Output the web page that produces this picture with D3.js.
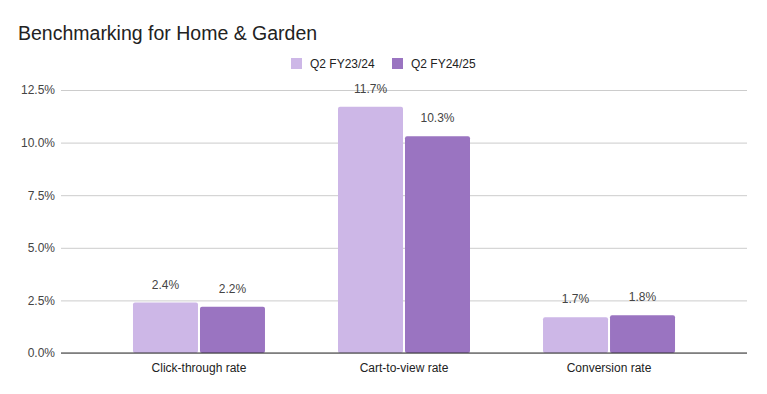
<!DOCTYPE html>
<html>
<head>
<meta charset="utf-8">
<script src="https://cdn.jsdelivr.net/npm/d3@7"></script>
<style>
  body { margin: 0; background: #fff; }
  text { font-family: Arial, "Liberation Sans", sans-serif; }
</style>
</head>
<body>
<div id="chart"></div>
<script>
      var w = 767;
      var h = 394;

      var categories = ['Click-through rate', 'Cart-to-view rate', 'Conversion rate'];
      var seriesNames = ['Q2 FY23/24', 'Q2 FY24/25'];
      var q2FY2324 = [2.4, 11.7, 1.7];
      var q2FY2425 = [2.2, 10.3, 1.8];
      var yTicks = [0, 2.5, 5, 7.5, 10, 12.5];
      var colors = ['#cdb7e7', '#9a74c1'];

      var margin = {left: 61, right: 20, top: 90, bottom: 41};
      var plotBottom = h - margin.bottom;
      var fontFam = "Arial, 'Liberation Sans', sans-serif";

      var rows = categories.map(function(c, i) {
        return {category: c, values: [q2FY2324[i], q2FY2425[i]]};
      });

      var x0 = d3.scaleBand()
              .domain(categories)
              .range([margin.left, w - margin.right])
              .paddingInner(0)
              .paddingOuter(0.173);

      var x1 = d3.scaleBand()
              .domain(d3.range(seriesNames.length))
              .range([(x0.bandwidth() - 132) / 2, (x0.bandwidth() + 132) / 2])
              .paddingInner(0.03);

      var y = d3.scaleLinear()
              .domain([0, 12.5])
              .range([plotBottom, margin.top]);

      var svg = d3.select("#chart")
            .append("svg")
            .attr("width", w)
            .attr("height", h);

      //Title
      svg.append("text")
         .attr("x", 18)
         .attr("y", 40)
         .attr("font-size", 19.5)
         .attr("fill", "#222")
         .text("Benchmarking for Home & Garden");

      //Legend
      var legendX = [291, 392];
      seriesNames.forEach(function(s, i) {
        svg.append("rect")
           .attr("x", legendX[i])
           .attr("y", 58)
           .attr("width", 11)
           .attr("height", 11)
           .attr("fill", colors[i]);
        svg.append("text")
           .attr("x", legendX[i] + 19)
           .attr("y", 68)
           .attr("font-size", 12)
           .attr("fill", "#222")
           .text(s);
      });

      //Gridlines and y labels
      var yAxis = d3.axisLeft(y)
              .tickValues(yTicks)
              .tickSize(-(w - margin.left - margin.right))
              .tickPadding(6)
              .tickFormat(function(d) { return d.toFixed(1) + "%"; });

      var gy = svg.append("g")
         .attr("transform", "translate(" + margin.left + ",0)")
         .call(yAxis);
      gy.select(".domain").remove();
      gy.selectAll(".tick line").attr("stroke", "#cccccc");
      gy.selectAll(".tick text")
        .attr("font-size", 12)
        .attr("fill", "#444")
        .attr("font-family", fontFam);

      //Bars
      var groups = svg.selectAll("g.cat")
         .data(rows)
         .enter()
         .append("g")
         .attr("class", "cat")
         .attr("transform", function(d) { return "translate(" + x0(d.category) + ",0)"; });

      groups.selectAll("rect")
         .data(function(d) { return d.values; })
         .enter()
         .append("rect")
         .attr("x", function(d, i) { return x1(i); })
         .attr("y", function(d) { return y(d); })
         .attr("width", x1.bandwidth())
         .attr("height", function(d) { return plotBottom - y(d); })
         .attr("rx", 2)
         .attr("fill", function(d, i) { return colors[i]; });

      //Value labels
      groups.selectAll("text.val")
         .data(function(d) { return d.values; })
         .enter()
         .append("text")
         .attr("class", "val")
         .attr("x", function(d, i) { return x1(i) + x1.bandwidth() / 2; })
         .attr("y", function(d) { return y(d) - 14; })
         .attr("text-anchor", "middle")
         .attr("font-size", 12)
         .attr("fill", "#444")
         .text(function(d) { return d.toFixed(1) + "%"; });

      //Baseline
      svg.append("line")
         .attr("x1", margin.left)
         .attr("x2", w - margin.right)
         .attr("y1", plotBottom)
         .attr("y2", plotBottom)
         .attr("stroke", "#333");

      //Category labels
      var xAxis = d3.axisBottom(x0).tickSize(0).tickPadding(10);
      var gx = svg.append("g")
         .attr("transform", "translate(0," + plotBottom + ")")
         .call(xAxis);
      gx.select(".domain").remove();
      gx.selectAll(".tick text")
        .attr("font-size", 12)
        .attr("fill", "#222")
        .attr("font-family", fontFam);
</script>
</body>
</html>
